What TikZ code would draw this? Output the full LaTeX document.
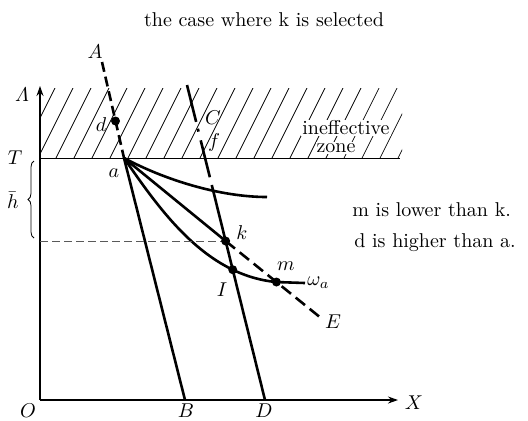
\documentclass[tikz,border=0pt]{standalone}
\usepackage{amsmath,amssymb}
\usepackage{tikz}
\usetikzlibrary{arrows.meta,positioning,intersections,decorations.pathreplacing}

\begin{document}
\begin{tikzpicture}[
    x=0.5pt, y=-0.5pt,
    axisline/.style={
        line width=0.6pt,
        -{Stealth[length=5pt,width=3.5pt]},
    },
    curveline/.style={line width=1.3pt},
    dashline/.style={line width=1.3pt, dash pattern=on 5pt off 2.5pt},
    guideline/.style={line width=0.5pt, color=black!65, dash pattern=on 4pt off 2pt},
    hatchline/.style={line width=0.35pt},
    lbl/.style={inner sep=1pt},
    dot/.style={circle, fill=black, inner sep=0pt, minimum size=4.5pt},
    zonetext/.style={fill=white, inner sep=0.5pt},
    note/.style={anchor=west, inner sep=0pt},
]
\useasboundingbox (0,0) rectangle (528,420);

% title
\node (title) at (264,20) {the case where k is selected};

% key points
\coordinate (O) at (40,400);
\coordinate (ytop) at (40,86);
\coordinate (xend) at (398,400);
\coordinate (a) at (124,158);
\coordinate (Atop) at (102,62);
\coordinate (d) at (115.5,121);
\coordinate (ctop) at (187,85);
\coordinate (Dpt) at (265,400);
\coordinate (Bpt) at (185,400);
\coordinate (Eend) at (321,318);
\coordinate (wend) at (305,283);
\coordinate (Tleft) at (40,158);
\coordinate (Tend) at (400,158);

% ineffective zone
\begin{scope}
    \clip (40,88) rectangle (402,158);
    \foreach \x in {2,20,...,416}
        \draw[hatchline] (\x,158) -- ++(36,-72);
\end{scope}
\draw[line width=0.5pt] (Tleft) -- (Tend);
\node[zonetext] (ineff) at (346,128) {ineffective};
\node[zonetext] (zone) at (336,148) {zone};

% axes
\draw[axisline] (O) -- (ytop);
\draw[axisline] (O) -- (xend);

% crossing points
\path[name path=cdpath] (ctop) -- (Dpt);
\path[name path=kline] (40,241) -- (420,241);
\path[name intersections={of=cdpath and kline, by=k}];
\coordinate (hk) at (O |- k);

% curves
\draw[curveline] (a) .. controls (165,180) and (220,197) .. (267,197);
\draw[curveline] (a) -- (k);
\draw[curveline, name path=lower] (a) .. controls (160,210) and (205,275) .. (276,282) -- (wend);
\path[name path=kepath] (k) -- (Eend);
\path[name intersections={of=kepath and lower, by=m}];
\path[name intersections={of=cdpath and lower, by=I}];

\draw[curveline] (a) -- (Bpt);
\draw[curveline, dash pattern=on 19pt off 3.5pt on 1.5pt off 4.5pt on 19pt off 4pt on 30pt off 4pt] (ctop) -- (k);
\draw[curveline] (k) -- (Dpt);
\draw[dashline] (Atop) -- (a);
\draw[dashline, dash pattern=on 6pt off 3pt] (k) -- (Eend);
\draw[guideline] (hk) -- (k);

% brace
\draw[decorate, decoration={brace, amplitude=3pt}, line width=0.4pt] (34,238) -- (34,161);

% dots
\node[dot] (ddot) at (d) {};
\node[dot] (kdot) at (k) {};
\node[dot] (Idot) at (I) {};
\node[dot] (mdot) at (m) {};

% labels
\node[lbl] (Alab) at (95,52) {$A$};
\node[lbl] (dlab) at (101,125) {$d$};
\node[lbl] (Clab) at (213,118) {$C$};
\node[lbl] (flab) at (214,142) {$f$};
\node[lbl] (alab) at (114,173) {$a$};
\node[lbl] (klab) at (242,233) {$k$};
\node[lbl] (Ilab) at (222,290) {$I$};
\node[lbl] (mlab) at (286,266) {$m$};
\node[lbl, anchor=west] (wlab) at (wend) {$\omega_a$};
\node[lbl] (Elab) at (333,322) {$E$};
\node[lbl] (Tlab) at (15,158) {$T$};
\node[lbl] (hlab) at (13,200) {$\bar{h}$};
\node[lbl] (Lamlab) at (22,95) {$\varLambda$};
\node[lbl] (Olab) at (28,411) {$O$};
\node[lbl] (Blab) at (186,411) {$B$};
\node[lbl] (Dlab) at (264,411) {$D$};
\node[lbl] (Xlab) at (414,403) {$X$};

% notes
\node[note] (note1) at (352,210) {m is lower than k.};
\node[note] (note2) at (354,243) {d is higher than a.};
\end{tikzpicture}
\end{document}
